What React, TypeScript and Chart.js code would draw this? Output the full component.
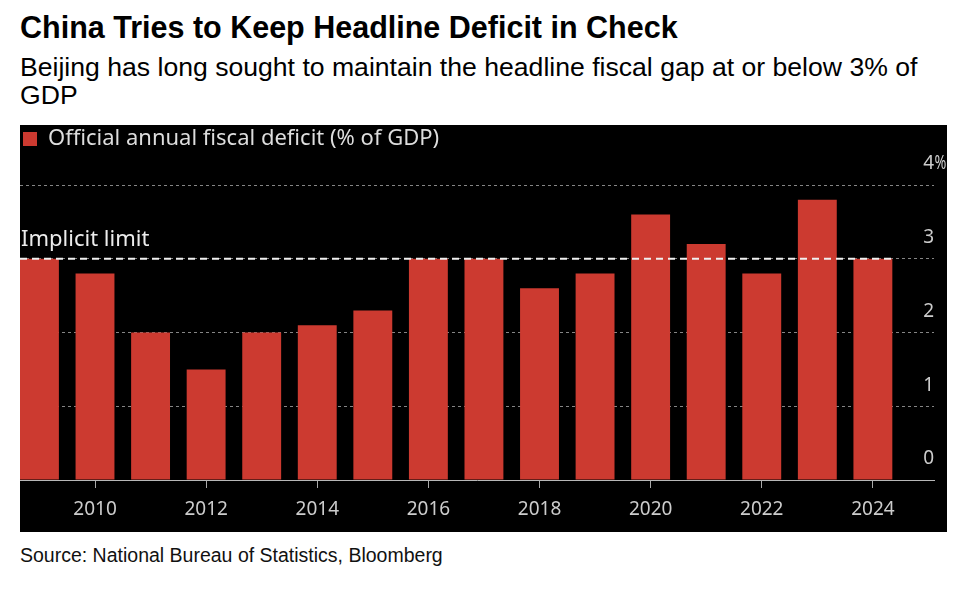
import React, { useEffect, useRef } from 'react';
import { Chart, registerables } from 'chart.js';

Chart.register(...registerables);

// ---- data ----
const years = [2009, 2010, 2011, 2012, 2013, 2014, 2015, 2016, 2017, 2018, 2019, 2020, 2021, 2022, 2023, 2024];
const deficit = [3.0, 2.8, 2.0, 1.5, 2.0, 2.1, 2.3, 3.0, 3.0, 2.6, 2.8, 3.6, 3.2, 2.8, 3.8, 3.0];
const xTickYears = [2010, 2012, 2014, 2016, 2018, 2020, 2022, 2024];
const yTickValues = [0, 1, 2, 3, 4];
const implicitLimit = 3;
const seriesLabel = 'Official annual fiscal deficit (% of GDP)';
const limitLabel = 'Implicit limit';
const titleText = 'China Tries to Keep Headline Deficit in Check';
const subtitleLine1 = 'Beijing has long sought to maintain the headline fiscal gap at or below 3% of';
const subtitleLine2 = 'GDP';
const sourceText = 'Source: National Bureau of Statistics, Bloomberg';

const CHART_FONT = '"Noto Sans", sans-serif';
const Y_LABEL_OFFSET = -21;
const Y_LABEL_PAD = 0;

const overlayPlugin = {
  id: 'limitOverlay',
  afterDatasetsDraw(chart: any) {
    const { ctx, chartArea, scales } = chart;
    const y = scales.y.getPixelForValue(implicitLimit);
    const meta = chart.getDatasetMeta(0);
    const last: any = meta.data[meta.data.length - 1];
    const xEnd = last.x + last.width / 2;
    ctx.save();
    ctx.strokeStyle = '#f0f0f0';
    ctx.lineWidth = 2;
    ctx.setLineDash([7, 5]);
    ctx.beginPath();
    ctx.moveTo(chartArea.left, y);
    ctx.lineTo(xEnd, y);
    ctx.stroke();
    ctx.setLineDash([]);
    ctx.fillStyle = '#ececec';
    ctx.font = '22px ' + CHART_FONT;
    ctx.textAlign = 'left';
    ctx.textBaseline = 'alphabetic';
    ctx.fillText(limitLabel, chartArea.left + 1, y - 13);
    ctx.restore();
  },
  afterDraw(chart: any) {
    const { ctx, scales } = chart;
    const topVal = yTickValues[yTickValues.length - 1];
    const ty = scales.y.getPixelForValue(topVal) + Y_LABEL_OFFSET;
    ctx.save();
    ctx.font = '19px ' + CHART_FONT;
    ctx.fillStyle = '#cccccc';
    ctx.textAlign = 'left';
    ctx.textBaseline = 'middle';
    ctx.translate(scales.y.left + Y_LABEL_PAD + 0.5, ty);
    ctx.scale(0.75, 1);
    ctx.fillText('%', 0, 0);
    ctx.restore();
  },
};

export default function App() {
  const canvasRef = useRef<HTMLCanvasElement | null>(null);

  useEffect(() => {
    if (!canvasRef.current) return;
    const chart = new Chart(canvasRef.current, {
      type: 'bar',
      data: {
        datasets: [
          {
            label: seriesLabel,
            data: years.map((x, i) => ({ x, y: deficit[i] })),
            backgroundColor: '#cc3a30',
            borderWidth: 0,
            barPercentage: 0.7,
            categoryPercentage: 1,
          },
        ],
      },
      options: {
        animation: false,
        responsive: false,
        devicePixelRatio: 1,
        events: [],
        layout: { padding: { left: 0, right: 8, top: 0, bottom: 0 } },
        plugins: {
          tooltip: { enabled: false },
          legend: {
            display: true,
            position: 'top',
            align: 'start',
            labels: {
              boxWidth: 14,
              boxHeight: 14,
              padding: 3,
              color: '#dddddd',
              font: { family: CHART_FONT, size: 22 },
            },
          },
        },
        scales: {
          x: {
            type: 'linear',
            min: 2008.65,
            max: 2025.1,
            offset: false,
            afterBuildTicks: (scale: any) => {
              scale.ticks = xTickYears.map((v) => ({ value: v }));
            },
            afterFit: (scale: any) => {
              scale.height = 52;
            },
            grid: {
              offset: false,
              drawOnChartArea: false,
              drawTicks: true,
              tickLength: 8,
              color: '#aaaaaa',
              lineWidth: 1,
            },
            border: { display: true, color: '#b8b8b8', width: 1 },
            ticks: {
              autoSkip: false,
              maxRotation: 0,
              padding: 10,
              color: '#cccccc',
              font: { family: CHART_FONT, size: 19 },
              callback: (v: any) => String(v),
            },
          },
          y: {
            type: 'linear',
            position: 'right',
            min: 0,
            max: 4.34,
            afterBuildTicks: (scale: any) => {
              scale.ticks = yTickValues.map((v) => ({ value: v }));
            },
            afterFit: (scale: any) => {
              scale.width = 5;
            },
            grid: {
              drawTicks: false,
              color: (c: any) => (c.tick && c.tick.value === 0 ? 'rgba(0,0,0,0)' : '#858585'),
              lineWidth: 1,
            },
            border: { display: false, dash: [3, 3] },
            ticks: {
              mirror: true,
              padding: Y_LABEL_PAD,
              labelOffset: Y_LABEL_OFFSET,
              color: '#cccccc',
              font: { family: CHART_FONT, size: 19 },
              callback: (v: any) => String(v),
            },
          },
        },
      } as any,
      plugins: [overlayPlugin],
    });
    return () => chart.destroy();
  }, []);

  const base: React.CSSProperties = { position: 'absolute', left: 20, margin: 0, whiteSpace: 'nowrap', color: '#000' };

  return (
    <div style={{ position: 'fixed', left: 0, top: 0, width: 958, height: 592, background: '#fff', overflow: 'hidden' }}>
      <div style={{ ...base, top: 12, fontFamily: '"Liberation Sans", Arial, sans-serif', fontWeight: 700, fontSize: 30.5, lineHeight: '30px' }}>
        {titleText}
      </div>
      <div style={{ ...base, top: 53, fontFamily: '"Liberation Sans", Arial, sans-serif', fontSize: 26.6, lineHeight: '28px' }}>
        {subtitleLine1}
        <br />
        {subtitleLine2}
      </div>
      <canvas
        ref={canvasRef}
        width={927}
        height={407}
        style={{ position: 'absolute', left: 20, top: 125, width: 927, height: 407, background: '#000', display: 'block' }}
      />
      <div style={{ ...base, top: 545, fontFamily: '"Liberation Sans", Arial, sans-serif', fontSize: 19.5, lineHeight: '20px', color: '#111' }}>
        {sourceText}
      </div>
    </div>
  );
}
